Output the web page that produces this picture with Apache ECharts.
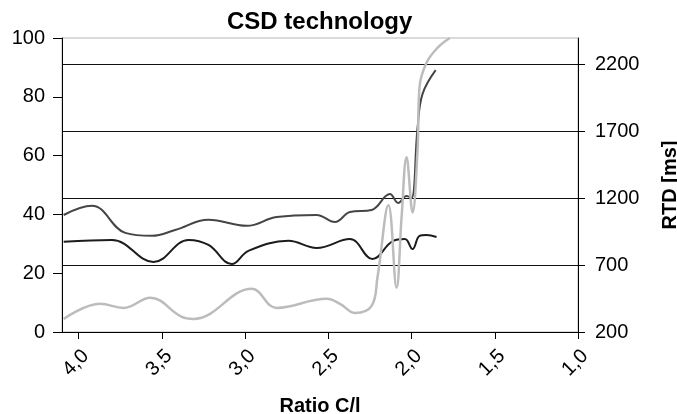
<!DOCTYPE html>
<html>
<head>
<meta charset="utf-8">
<script src="https://cdn.jsdelivr.net/npm/echarts@6/dist/echarts.min.js"></script>
<style>
html,body{margin:0;padding:0;background:#fff;}
#chart{width:677px;height:414px;}
</style>
</head>
<body>
<div id="chart"></div>
<script>
var chart = echarts.init(document.getElementById('chart'));

// X: ratio C/l, Y left: %, Y right: RTD [ms]
var upperX = [4.09, 3.92, 3.72, 3.56, 3.42, 3.22, 2.99, 2.81, 2.57, 2.46, 2.37, 2.24, 2.13, 2.08, 2.03, 2.00, 1.964, 1.934, 1.855];
var upperY = [39.8, 42.9, 33.7, 32.7, 34.7, 38.2, 36.1, 39.1, 39.8, 37.4, 40.8, 41.5, 46.9, 43.9, 46.3, 45.6, 69.4, 81.0, 89.1];

var lowerX = [4.09, 3.80, 3.55, 3.34, 3.22, 3.08, 2.98, 2.74, 2.57, 2.37, 2.235, 2.11, 2.04, 1.994, 1.952, 1.91, 1.85];
var lowerY = [30.7, 31.3, 23.8, 31.3, 29.6, 23.1, 27.6, 31.0, 28.6, 31.6, 24.8, 31.0, 31.6, 28.2, 32.7, 33.0, 32.3];

var rtdX = [4.09, 3.87, 3.73, 3.57, 3.38, 3.31, 2.96, 2.81, 2.51, 2.43, 2.34, 2.24, 2.205, 2.139, 2.09, 2.06, 2.03, 1.994, 1.964, 1.952, 1.91, 1.843, 1.77];
var rtdY = [298, 411, 380, 456, 313, 298, 523, 380, 448, 411, 343, 396, 606, 1148, 531, 1057, 1508, 1095, 1561, 2035, 2215, 2328, 2400];

var xTicks = [1.0, 1.5, 2.0, 2.5, 3.0, 3.5, 4.0];
var rtdTicks = [200, 700, 1200, 1700, 2200];

function pairs(xs, ys) {
    var out = [];
    for (var i = 0; i < xs.length; i++) {
        out.push([xs[i], ys[i]]);
    }
    return out;
}

var font = 'Liberation Sans';

var option = {
    animation: false,
    title: {
        text: 'CSD technology',
        left: 222,
        top: 5,
        textStyle: {fontFamily: font, fontSize: 24, fontWeight: 'bold', color: '#000'}
    },
    grid: {
        left: 62, right: 99, top: 38, bottom: 82,
        outerBoundsMode: 'none',
        show: true, borderColor: '#b5b5b5', borderWidth: 1, backgroundColor: 'transparent'
    },
    xAxis: {
        type: 'value',
        min: 1.0,
        max: 4.1,
        interval: 0.5,
        inverse: true,
        name: 'Ratio C/l',
        nameLocation: 'middle',
        nameGap: 64,
        nameMoveOverlap: false,
        nameTextStyle: {fontFamily: font, fontSize: 20, fontWeight: 'bold', color: '#000'},
        axisLine: {lineStyle: {color: '#000', width: 1}},
        axisTick: {customValues: xTicks, length: 7, lineStyle: {color: '#000'}},
        axisLabel: {
            customValues: xTicks,
            rotate: 45,
            margin: 14,
            verticalAlign: 'top',
            fontFamily: font,
            fontSize: 20,
            color: '#000',
            formatter: function (v) { return v.toFixed(1).replace('.', ','); }
        },
        splitLine: {show: false}
    },
    yAxis: [{
        type: 'value',
        min: 0,
        max: 100,
        interval: 20,
        position: 'left',
        axisLine: {show: true, lineStyle: {color: '#000'}},
        axisTick: {show: true, length: 9, lineStyle: {color: '#000'}},
        axisLabel: {margin: 17, fontFamily: font, fontSize: 20, color: '#000'},
        splitLine: {show: false}
    }, {
        type: 'value',
        min: 200,
        max: 2400,
        interval: 500,
        position: 'right',
        name: 'RTD [ms]',
        nameLocation: 'middle',
        nameRotate: 90,
        nameGap: 82,
        nameMoveOverlap: false,
        nameTextStyle: {fontFamily: font, fontSize: 20, fontWeight: 'bold', color: '#000'},
        axisLine: {show: true, lineStyle: {color: '#000'}},
        axisTick: {show: true, customValues: rtdTicks, length: 7, lineStyle: {color: '#000'}},
        axisLabel: {
            customValues: rtdTicks, margin: 17, fontFamily: font, fontSize: 20, color: '#000',
            formatter: function (v) { return String(v); }
        },
        splitLine: {show: true, lineStyle: {color: '#111', width: 1}}
    }],
    series: [{
        name: 'upper',
        type: 'line',
        yAxisIndex: 0,
        data: pairs(upperX, upperY),
        smooth: 0.4,
        showSymbol: false,
        lineStyle: {color: '#454545', width: 2}
    }, {
        name: 'lower',
        type: 'line',
        yAxisIndex: 0,
        data: pairs(lowerX, lowerY),
        smooth: 0.4,
        showSymbol: false,
        lineStyle: {color: '#1c1c1c', width: 2}
    }, {
        name: 'RTD',
        type: 'line',
        yAxisIndex: 1,
        data: pairs(rtdX, rtdY),
        smooth: 0.4,
        showSymbol: false,
        lineStyle: {color: '#bcbcbc', width: 2.5}
    }]
};
chart.setOption(option);
</script>
</body>
</html>
